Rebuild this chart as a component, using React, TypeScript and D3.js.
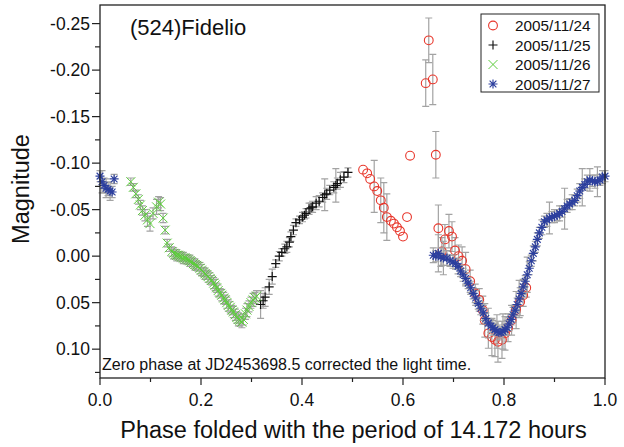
import React from 'react';
import * as d3 from 'd3';

// (524) Fidelio folded lightcurve, four nights
const phase24 = [0.521, 0.529, 0.535, 0.543, 0.549, 0.556, 0.562, 0.568, 0.576, 0.582, 0.588, 0.594, 0.600, 0.608, 0.614, 0.645, 0.651, 0.659, 0.665, 0.670, 0.677, 0.683, 0.691, 0.697, 0.703, 0.710, 0.717, 0.724, 0.733, 0.743, 0.751, 0.758, 0.762, 0.769, 0.776, 0.782, 0.788, 0.796, 0.802, 0.808, 0.815, 0.824, 0.832, 0.838, 0.844];
const mag24 = [-0.093, -0.089, -0.083, -0.075, -0.070, -0.060, -0.052, -0.042, -0.038, -0.035, -0.031, -0.027, -0.021, -0.042, -0.108, -0.186, -0.232, -0.190, -0.109, -0.030, -0.005, -0.018, -0.027, -0.021, -0.006, 0.000, 0.005, 0.014, 0.027, 0.040, 0.047, 0.058, 0.069, 0.083, 0.087, 0.090, 0.092, 0.090, 0.083, 0.077, 0.069, 0.058, 0.049, 0.042, 0.034];
const err24 = [0, 0, 0, 0.028, 0, 0.024, 0.027, 0.025, 0, 0, 0, 0, 0, 0, 0, 0.025, 0.024, 0.027, 0.025, 0.025, 0.015, 0.016, 0.018, 0.016, 0.014, 0.012, 0.015, 0.018, 0.012, 0.010, 0.012, 0.015, 0.018, 0.016, 0.020, 0.018, 0.022, 0.020, 0.018, 0.015, 0.016, 0.020, 0.015, 0.012, 0.010];

const phase25 = [0.318, 0.323, 0.327, 0.335, 0.341, 0.348, 0.355, 0.360, 0.366, 0.370, 0.375, 0.378, 0.383, 0.388, 0.395, 0.401, 0.405, 0.408, 0.414, 0.418, 0.421, 0.428, 0.434, 0.441, 0.445, 0.449, 0.455, 0.463, 0.467, 0.470, 0.476, 0.483, 0.491];
const mag25 = [0.052, 0.048, 0.044, 0.033, 0.022, 0.008, 0.000, -0.004, -0.008, -0.010, -0.015, -0.021, -0.028, -0.036, -0.039, -0.042, -0.044, -0.046, -0.051, -0.052, -0.053, -0.057, -0.059, -0.063, -0.066, -0.067, -0.071, -0.074, -0.076, -0.078, -0.082, -0.085, -0.090];
const err25 = [0.015, 0.008, 0.010, 0.008, 0.008, 0.004, 0.005, 0.004, 0.005, 0.006, 0.005, 0.005, 0.005, 0.004, 0.004, 0.005, 0.004, 0.005, 0.006, 0.005, 0.006, 0.007, 0.006, 0.005, 0.017, 0.006, 0.005, 0.006, 0.018, 0.006, 0.008, 0.006, 0.005];

const phase26 = [0.061, 0.066, 0.071, 0.076, 0.080, 0.084, 0.089, 0.094, 0.099, 0.105, 0.112, 0.116, 0.120, 0.125, 0.129, 0.133, 0.137, 0.142, 0.146, 0.149, 0.152, 0.155, 0.158, 0.161, 0.165, 0.168, 0.171, 0.174, 0.178, 0.181, 0.185, 0.188, 0.191, 0.194, 0.198, 0.201, 0.205, 0.208, 0.211, 0.214, 0.218, 0.221, 0.225, 0.228, 0.231, 0.234, 0.238, 0.241, 0.245, 0.248, 0.251, 0.254, 0.258, 0.261, 0.264, 0.268, 0.271, 0.274, 0.277, 0.281, 0.284, 0.288, 0.291, 0.295, 0.299, 0.303, 0.307, 0.310];
const mag26 = [-0.080, -0.074, -0.067, -0.061, -0.055, -0.049, -0.044, -0.039, -0.035, -0.046, -0.053, -0.058, -0.056, -0.041, -0.028, -0.014, -0.009, -0.005, -0.003, -0.002, -0.001, -0.001, 0.000, 0.001, 0.002, 0.002, 0.003, 0.004, 0.005, 0.006, 0.008, 0.009, 0.010, 0.011, 0.013, 0.015, 0.017, 0.019, 0.020, 0.022, 0.024, 0.026, 0.029, 0.031, 0.034, 0.037, 0.040, 0.042, 0.045, 0.047, 0.050, 0.053, 0.055, 0.058, 0.060, 0.063, 0.066, 0.068, 0.069, 0.071, 0.068, 0.062, 0.058, 0.054, 0.050, 0.047, 0.045, 0.043];
const err26 = [0.004, 0.004, 0.004, 0.005, 0.005, 0.005, 0.006, 0.007, 0.008, 0.006, 0.008, 0.006, 0.007, 0.005, 0.004, 0.004, 0.004, 0.005, 0.006, 0.005, 0.006, 0.004, 0.005, 0.005, 0.006, 0.004, 0.005, 0.005, 0.006, 0.005, 0.005, 0.006, 0.005, 0.005, 0.006, 0.006, 0.005, 0.006, 0.005, 0.006, 0.006, 0.005, 0.006, 0.006, 0.005, 0.006, 0.005, 0.006, 0.006, 0.005, 0.006, 0.006, 0.006, 0.005, 0.006, 0.006, 0.006, 0.007, 0.006, 0.006, 0.006, 0.006, 0.007, 0.006, 0.006, 0.007, 0.006, 0.006];

const phase27 = [0.000, 0.004, 0.008, 0.012, 0.016, 0.020, 0.024, 0.028, 0.660, 0.665, 0.670, 0.675, 0.680, 0.687, 0.693, 0.699, 0.704, 0.709, 0.714, 0.719, 0.724, 0.729, 0.734, 0.739, 0.744, 0.749, 0.754, 0.759, 0.764, 0.769, 0.774, 0.778, 0.782, 0.786, 0.790, 0.794, 0.798, 0.802, 0.806, 0.810, 0.814, 0.818, 0.822, 0.826, 0.830, 0.834, 0.838, 0.842, 0.846, 0.850, 0.854, 0.858, 0.862, 0.866, 0.870, 0.875, 0.880, 0.885, 0.890, 0.895, 0.900, 0.905, 0.910, 0.915, 0.920, 0.925, 0.930, 0.935, 0.940, 0.945, 0.950, 0.955, 0.960, 0.965, 0.970, 0.975, 0.980, 0.985, 0.990, 0.995, 1.000];
const mag27 = [-0.086, -0.080, -0.076, -0.073, -0.072, -0.070, -0.069, -0.083, -0.001, 0.000, -0.003, 0.001, 0.002, 0.002, 0.005, 0.006, 0.008, 0.011, 0.016, 0.020, 0.024, 0.029, 0.034, 0.040, 0.045, 0.051, 0.056, 0.061, 0.067, 0.072, 0.075, 0.077, 0.079, 0.081, 0.082, 0.082, 0.081, 0.079, 0.077, 0.073, 0.068, 0.063, 0.058, 0.052, 0.046, 0.040, 0.033, 0.027, 0.020, 0.013, 0.005, -0.003, -0.010, -0.018, -0.025, -0.031, -0.037, -0.039, -0.041, -0.042, -0.043, -0.044, -0.046, -0.048, -0.051, -0.054, -0.056, -0.058, -0.060, -0.065, -0.070, -0.074, -0.077, -0.080, -0.082, -0.081, -0.080, -0.080, -0.082, -0.085, -0.086];
const err27 = [0.006, 0.012, 0.008, 0.010, 0.007, 0.010, 0.006, 0.005, 0.008, 0.006, 0.020, 0.010, 0.018, 0.008, 0.006, 0.007, 0.006, 0.008, 0.006, 0.007, 0.006, 0.006, 0.007, 0.006, 0.008, 0.006, 0.007, 0.008, 0.006, 0.016, 0.007, 0.008, 0.006, 0.018, 0.008, 0.006, 0.019, 0.006, 0.008, 0.007, 0.006, 0.008, 0.006, 0.007, 0.020, 0.006, 0.008, 0.006, 0.019, 0.007, 0.006, 0.008, 0.006, 0.007, 0.006, 0.008, 0.006, 0.007, 0.017, 0.006, 0.007, 0.006, 0.008, 0.006, 0.022, 0.007, 0.006, 0.008, 0.006, 0.007, 0.008, 0.020, 0.006, 0.007, 0.012, 0.006, 0.007, 0.016, 0.006, 0.007, 0.006];

const dates = ['2005/11/24', '2005/11/25', '2005/11/26', '2005/11/27'];
const xMajor = [0, 0.2, 0.4, 0.6, 0.8, 1.0];
const xMinor = [0.1, 0.3, 0.5, 0.7, 0.9];
const yMajor = [-0.25, -0.2, -0.15, -0.1, -0.05, 0, 0.05, 0.1];
const yMinor = [-0.225, -0.175, -0.125, -0.075, -0.025, 0.025, 0.075, 0.125];

const W = 624;
const H = 447;
const FONT = '"Liberation Sans", Arial, Helvetica, sans-serif';
const BAR = '#a3a3a3';

type Shape = 'circle' | 'plus' | 'cross' | 'star';

const series: { label: string; phase: number[]; mag: number[]; err: number[]; color: string; shape: Shape }[] = [
  { label: dates[0], phase: phase24, mag: mag24, err: err24, color: '#e8372c', shape: 'circle' },
  { label: dates[1], phase: phase25, mag: mag25, err: err25, color: '#111111', shape: 'plus' },
  { label: dates[2], phase: phase26, mag: mag26, err: err26, color: '#5ccc3c', shape: 'cross' },
  { label: dates[3], phase: phase27, mag: mag27, err: err27, color: '#2c3f9e', shape: 'star' },
];

// plain hyphen for negative tick labels, as Origin prints them
const locale = d3.formatLocale({ decimal: '.', thousands: ',', grouping: [3], currency: ['', ''], minus: '-' });

function Marker({ cx, cy, shape, color }: { cx: number; cy: number; shape: Shape; color: string }) {
  const s = 4.5;
  if (shape === 'circle') {
    return <circle cx={cx} cy={cy} r={4.4} fill="none" stroke={color} strokeWidth={1.1} />;
  }
  let d = '';
  if (shape === 'plus' || shape === 'star') d += `M${cx - s},${cy}H${cx + s}M${cx},${cy - s}V${cy + s}`;
  if (shape === 'cross' || shape === 'star') {
    const k = shape === 'star' ? s * 0.75 : s;
    d += `M${cx - k},${cy - k}L${cx + k},${cy + k}M${cx - k},${cy + k}L${cx + k},${cy - k}`;
  }
  return <path d={d} fill="none" stroke={color} strokeWidth={shape === 'cross' ? 1 : 1.15} />;
}

export default function App() {
  const x = d3.scaleLinear().domain([0, 1]).range([100, 605]);
  const y = d3.scaleLinear().domain([-0.27, 0.131]).range([5, 378]);
  const left = x.range()[0];
  const right = x.range()[1];
  const top = y.range()[0];
  const bottom = y.range()[1];
  const fmtY = locale.format('.2f');
  const fmtX = locale.format('.1f');

  return (
    <svg width={W} height={H} style={{ position: 'absolute', left: 0, top: 0, background: '#fff' }} fontFamily={FONT}>
      <rect x={0} y={0} width={W} height={H} fill="#fff" />

      {/* data: error bars then symbols, one night after another */}
      {series.map((s) => (
        <g key={s.label}>
          <g stroke={BAR} strokeWidth={1.2} fill="none">
            {s.phase.map((p, i) => {
              if (!s.err[i]) return null;
              const cx = x(p);
              const y1 = y(s.mag[i] - s.err[i]);
              const y2 = y(s.mag[i] + s.err[i]);
              return (
                <path key={i} d={`M${cx},${y1}V${y2}M${cx - 3.5},${y1}H${cx + 3.5}M${cx - 3.5},${y2}H${cx + 3.5}`} />
              );
            })}
          </g>
          {s.phase.map((p, i) => (
            <Marker key={i} cx={x(p)} cy={y(s.mag[i])} shape={s.shape} color={s.color} />
          ))}
        </g>
      ))}

      {/* frame */}
      <rect x={left} y={top} width={right - left} height={bottom - top} fill="none" stroke="#222" strokeWidth={1.3} />

      {/* y axis */}
      <g stroke="#222" strokeWidth={1.2}>
        {yMajor.map((v) => (
          <line key={v} x1={left - 8} x2={left} y1={y(v)} y2={y(v)} />
        ))}
        {yMinor.map((v) => (
          <line key={v} x1={left - 5} x2={left} y1={y(v)} y2={y(v)} />
        ))}
      </g>
      {yMajor.map((v) => (
        <text key={v} x={left - 10} y={y(v)} dy="0.36em" textAnchor="end" fontSize={17.5} fill="#111">
          {fmtY(v)}
        </text>
      ))}

      {/* x axis */}
      <g stroke="#222" strokeWidth={1.2}>
        {xMajor.map((v) => (
          <line key={v} x1={x(v)} x2={x(v)} y1={bottom} y2={bottom + 7} />
        ))}
        {xMinor.map((v) => (
          <line key={v} x1={x(v)} x2={x(v)} y1={bottom} y2={bottom + 4} />
        ))}
      </g>
      {xMajor.map((v) => (
        <text key={v} x={x(v)} y={bottom + 28} textAnchor="middle" fontSize={17.5} fill="#111">
          {fmtX(v)}
        </text>
      ))}

      {/* titles */}
      <text x={(left + right) / 2 + 1} y={438} textAnchor="middle" fontSize={23.5} fill="#111">
        Phase folded with the period of 14.172 hours
      </text>
      <text transform={`translate(29,189) rotate(-90)`} textAnchor="middle" fontSize={23.5} fill="#111">
        Magnitude
      </text>
      <text x={130} y={35} fontSize={22} fill="#111">
        (524)Fidelio
      </text>
      <text x={102} y={370} fontSize={16} fill="#111">
        Zero phase at JD2453698.5 corrected the light time.
      </text>

      {/* legend */}
      <rect x={481} y={14} width={118} height={78} fill="#fff" stroke="#222" strokeWidth={1} />
      {series.map((s, i) => (
        <g key={s.label}>
          <Marker cx={493} cy={25.5 + i * 19.5} shape={s.shape} color={s.color} />
          <text x={515} y={25.5 + i * 19.5} dy="0.36em" fontSize={15.3} fill="#111">
            {s.label}
          </text>
        </g>
      ))}
    </svg>
  );
}
